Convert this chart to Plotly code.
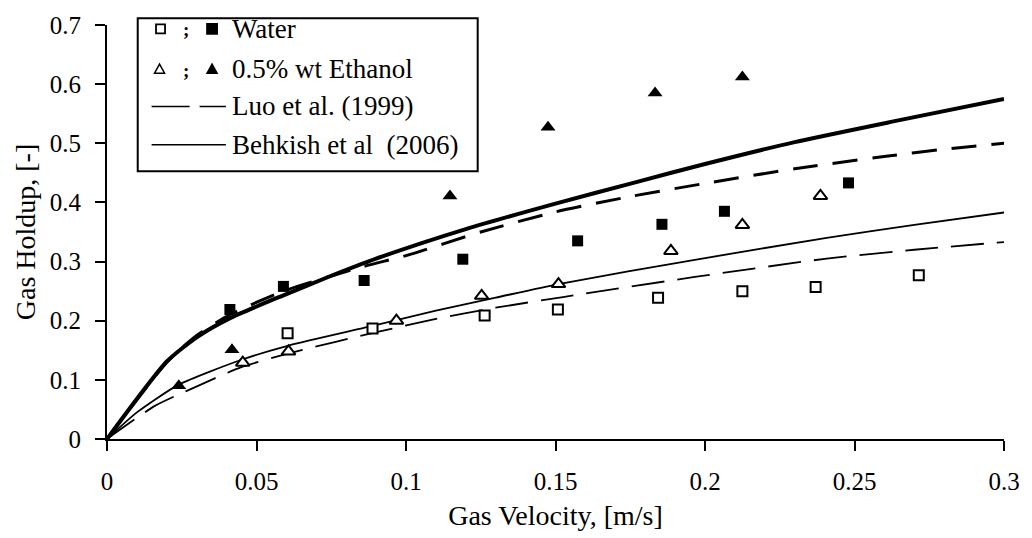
import plotly.graph_objects as go

# ---------------- data ----------------
water_open_v = [0.0604, 0.0888, 0.1263, 0.1508, 0.1843, 0.2125, 0.2370, 0.2715]
water_open_h = [0.179, 0.187, 0.209, 0.219, 0.239, 0.250, 0.257, 0.277]

water_filled_v = [0.0411, 0.0590, 0.0860, 0.1190, 0.1574, 0.1856, 0.2065, 0.2480]
water_filled_h = [0.219, 0.258, 0.268, 0.304, 0.335, 0.363, 0.385, 0.433]

eth_open_v = [0.0454, 0.0607, 0.0968, 0.1253, 0.1510, 0.1886, 0.2125, 0.2386]
eth_open_h = [0.129, 0.148, 0.200, 0.242, 0.262, 0.318, 0.362, 0.411]

eth_filled_v = [0.0240, 0.0418, 0.1147, 0.1475, 0.1833, 0.2125]
eth_filled_h = [0.090, 0.151, 0.411, 0.527, 0.585, 0.612]

behkish_up_v = [0, 0.020, 0.030, 0.041, 0.059, 0.075, 0.090, 0.120, 0.150, 0.1767, 0.200, 0.230, 0.263, 0.300]
behkish_up_h = [0, 0.131, 0.172, 0.204, 0.243, 0.276, 0.305, 0.355, 0.398, 0.434, 0.465, 0.502, 0.537, 0.575]

luo_up_v = [0, 0.020, 0.030, 0.041, 0.059, 0.086, 0.100, 0.125, 0.150, 0.175, 0.201, 0.230, 0.2605, 0.280, 0.300]
luo_up_h = [0, 0.130, 0.175, 0.210, 0.250, 0.292, 0.310, 0.350, 0.384, 0.410, 0.433, 0.457, 0.478, 0.490, 0.500]

behkish_lo_v = [0, 0.010, 0.024, 0.045, 0.0607, 0.0895, 0.110, 0.130, 0.151, 0.1966, 0.2407, 0.270, 0.300]
behkish_lo_h = [0, 0.045, 0.092, 0.134, 0.158, 0.192, 0.217, 0.239, 0.262, 0.303, 0.340, 0.362, 0.383]

luo_lo_v = [0, 0.016, 0.0265, 0.0447, 0.0617, 0.0905, 0.110, 0.130, 0.1525, 0.1966, 0.2407, 0.270, 0.300]
luo_lo_h = [0, 0.056, 0.081, 0.121, 0.146, 0.181, 0.203, 0.222, 0.240, 0.274, 0.305, 0.320, 0.333]

x_ticks = [0, 0.05, 0.1, 0.15, 0.2, 0.25, 0.3]
x_tick_text = ["0", "0.05", "0.1", "0.15", "0.2", "0.25", "0.3"]
y_ticks = [0, 0.1, 0.2, 0.3, 0.4, 0.5, 0.6, 0.7]
y_tick_text = ["0", "0.1", "0.2", "0.3", "0.4", "0.5", "0.6", "0.7"]

legend_labels = ["Water", "0.5% wt Ethanol", "Luo et al. (1999)", "Behkish et al  (2006)"]

# ---------------- layout geometry ----------------
W, H = 1032, 538
ML, MR, MT, MB = 107, 20, 19, 97
PW, PH = W - ML - MR, H - MT - MB
FONT = "Liberation Serif, Times New Roman, serif"


def px(xp):
    return (xp - ML) / PW


def py(yp):
    return (H - MB - yp) / PH


fig = go.Figure()

# model lines
fig.add_trace(go.Scatter(x=behkish_lo_v, y=behkish_lo_h, mode="lines",
                         line=dict(color="black", width=1.8, shape="spline", smoothing=0.6),
                         showlegend=False))
fig.add_trace(go.Scatter(x=luo_lo_v, y=luo_lo_h, mode="lines",
                         line=dict(color="black", width=1.8, dash="33px,13px", shape="spline", smoothing=0.6),
                         showlegend=False))
fig.add_trace(go.Scatter(x=luo_up_v, y=luo_up_h, mode="lines",
                         line=dict(color="black", width=3, dash="25px,15px", shape="spline", smoothing=0.6),
                         showlegend=False))
fig.add_trace(go.Scatter(x=behkish_up_v, y=behkish_up_h, mode="lines",
                         line=dict(color="black", width=4, shape="spline", smoothing=0.6),
                         showlegend=False))

# experimental points
fig.add_trace(go.Scatter(x=water_open_v, y=water_open_h, mode="markers",
                         marker=dict(symbol="square", size=10, color="white",
                                     line=dict(color="black", width=2)), showlegend=False))
fig.add_trace(go.Scatter(x=water_filled_v, y=water_filled_h, mode="markers",
                         marker=dict(symbol="square", size=11, color="black",
                                     line=dict(color="black", width=0)), showlegend=False))
fig.add_trace(go.Scatter(x=eth_open_v, y=eth_open_h, mode="markers",
                         marker=dict(symbol="triangle-up", size=12, color="white",
                                     line=dict(color="black", width=2)), showlegend=False))
fig.add_trace(go.Scatter(x=eth_filled_v, y=eth_filled_h, mode="markers",
                         marker=dict(symbol="triangle-up", size=13, color="black",
                                     line=dict(color="black", width=0)), showlegend=False))

shapes = []
annotations = []

# legend box
shapes.append(dict(type="rect", xref="paper", yref="paper",
                   x0=px(138), x1=px(481), y0=py(168), y1=py(12),
                   line=dict(color="black", width=2), fillcolor="white", layer="above"))

rows = [23, 64, 102, 141]


def pix_rect(cx, cy, half, filled):
    return dict(type="rect", xref="paper", yref="paper",
                xsizemode="pixel", ysizemode="pixel",
                xanchor=px(cx), yanchor=py(cy),
                x0=-half, x1=half, y0=-half, y1=half,
                line=dict(color="black", width=1.8),
                fillcolor="black" if filled else "white", layer="above")


def pix_tri(cx, cy, filled):
    return dict(type="path", xref="paper", yref="paper",
                xsizemode="pixel", ysizemode="pixel",
                xanchor=px(cx), yanchor=py(cy),
                path="M -5,-4 L 5,-4 L 0,5 Z",
                line=dict(color="black", width=1.5),
                fillcolor="black" if filled else "white", layer="above")


shapes.append(pix_rect(161, rows[0], 4.5, False))
shapes.append(pix_rect(213, rows[0], 5, True))
shapes.append(pix_tri(160, rows[1], False))
shapes.append(pix_tri(213, rows[1], True))
for r in rows[:2]:
    annotations.append(dict(xref="paper", yref="paper", x=px(187), y=py(r + 1),
                            text="<b>;</b>", showarrow=False, xanchor="center", yanchor="middle",
                            font=dict(family=FONT, size=19, color="black")))

shapes.append(dict(type="line", xref="paper", yref="paper",
                   x0=px(152), x1=px(227), y0=py(rows[2]), y1=py(rows[2]),
                   line=dict(color="black", width=1.5, dash="38px,10px"), layer="above"))
shapes.append(dict(type="line", xref="paper", yref="paper",
                   x0=px(152), x1=px(227), y0=py(rows[3]), y1=py(rows[3]),
                   line=dict(color="black", width=1.5), layer="above"))

for r, lab in zip(rows, legend_labels):
    annotations.append(dict(xref="paper", yref="paper", x=px(231), y=py(r),
                            text=lab, showarrow=False, xanchor="left", yanchor="middle",
                            font=dict(family=FONT, size=27, color="black")))

fig.update_layout(
    width=W, height=H,
    margin=dict(l=ML, r=MR, t=MT, b=MB, pad=0),
    paper_bgcolor="white", plot_bgcolor="white",
    showlegend=False,
    shapes=shapes, annotations=annotations,
    font=dict(family=FONT, color="black"),
)

fig.update_xaxes(range=[0, 0.3], tickvals=x_ticks, ticktext=x_tick_text,
                 showline=True, linecolor="black", linewidth=2,
                 ticks="outside", ticklen=10, tickwidth=2, tickcolor="black",
                 showgrid=False, zeroline=False,
                 tickfont=dict(family=FONT, size=25, color="black"),
                 ticklabelstandoff=9,
                 title=dict(text="Gas Velocity, [m/s]", standoff=11,
                            font=dict(family=FONT, size=28, color="black")))
fig.update_yaxes(range=[0, 0.7], tickvals=y_ticks, ticktext=y_tick_text,
                 showline=True, linecolor="black", linewidth=2,
                 ticks="outside", ticklen=10, tickwidth=2, tickcolor="black",
                 showgrid=False, zeroline=False,
                 tickfont=dict(family=FONT, size=25, color="black"),
                 ticklabelstandoff=9,
                 title=dict(text="Gas Holdup, [-]", standoff=6,
                            font=dict(family=FONT, size=28, color="black")))

fig.write_html("out.html")
